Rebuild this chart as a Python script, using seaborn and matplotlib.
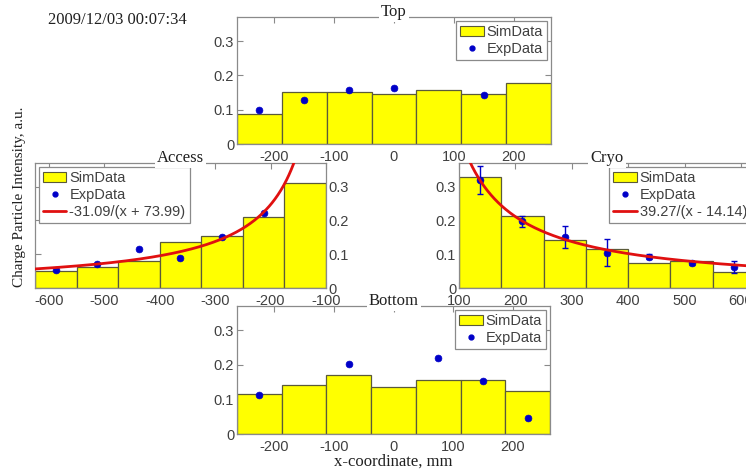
import numpy as np
import matplotlib
matplotlib.use("Agg")
import matplotlib.pyplot as plt
import seaborn as sns
from matplotlib.patches import Patch
from matplotlib.lines import Line2D

sns.set_style("white")
plt.rcParams['font.family'] = ['Liberation Sans', 'DejaVu Sans']

# ---------------- data ----------------
timestamp = "2009/12/03 00:07:34"
ylabel_text = "Charge Particle Intensity, a.u."
xlabel_text = "x-coordinate, mm"

# Top
top_centers = [-225, -150, -75, 0, 75, 150, 225]
top_sim = [0.087, 0.151, 0.151, 0.146, 0.156, 0.146, 0.178]
top_exp_x = [-225, -150, -75, 0, 150]
top_exp_y = [0.099, 0.127, 0.156, 0.162, 0.142]

# Bottom
bot_centers = [-225, -150, -75, 0, 75, 150, 225]
bot_sim = [0.116, 0.143, 0.170, 0.137, 0.157, 0.157, 0.125]
bot_exp_x = [-225, -75, 75, 150, 225]
bot_exp_y = [0.112, 0.201, 0.219, 0.152, 0.047]

# Access
acc_centers = [-587.5, -512.5, -437.5, -362.5, -287.5, -212.5, -137.5]
acc_sim = [0.050, 0.063, 0.081, 0.137, 0.155, 0.211, 0.312]
acc_exp_x = [-587.5, -512.5, -437.5, -362.5, -287.5, -212.5]
acc_exp_y = [0.053, 0.072, 0.115, 0.088, 0.150, 0.223]
acc_fit_a, acc_fit_b = -31.09, 73.99
acc_fit_label = "-31.09/(x + 73.99)"

# Cryo
cry_centers = [137.5, 212.5, 287.5, 362.5, 437.5, 512.5, 587.5]
cry_sim = [0.330, 0.213, 0.142, 0.115, 0.075, 0.079, 0.046]
cry_exp_x = [137.5, 212.5, 287.5, 362.5, 437.5, 512.5, 587.5]
cry_exp_y = [0.320, 0.198, 0.151, 0.105, 0.093, 0.073, 0.062]
cry_exp_err = [0.042, 0.016, 0.033, 0.040, 0.008, 0.005, 0.018]
cry_fit_a, cry_fit_b = 39.27, -14.14
cry_fit_label = "39.27/(x - 14.14)"

# ---------------- style ----------------
YELLOW = "#ffff00"
BAR_EDGE = "#5a5a3a"
BLUE = "#0000c8"
RED = "#e01010"
SPINE = "#8a8a8a"
TICKC = "#404040"
SERIF = ['Liberation Serif', 'DejaVu Serif']
SANS = ['Liberation Sans', 'DejaVu Sans']
BIN_W = 75

W, H = 746, 474
fig = plt.figure(figsize=(W / 100, H / 100), dpi=100)
fig.patch.set_facecolor("white")


def px_axes(l, t, r, b):
    return fig.add_axes([l / W, 1 - b / H, (r - l) / W, (b - t) / H])


def style_axes(ax, xlim, xticks, ylabels_right=False):
    ax.set_xlim(*xlim)
    ax.set_ylim(0, 0.37)
    ax.set_xticks(xticks)
    ax.set_xticklabels([str(t) for t in xticks])
    ax.set_yticks([0, 0.1, 0.2, 0.3])
    ax.set_yticklabels(["0", "0.1", "0.2", "0.3"])
    for s in ax.spines.values():
        s.set_visible(True)
        s.set_color(SPINE)
        s.set_linewidth(0.9)
    ax.tick_params(direction='in', length=4, width=0.8, color=SPINE,
                   top=True, right=True, bottom=True, left=True,
                   labelsize=10.5, labelcolor=TICKC)
    ax.tick_params(axis='y', pad=2)
    ax.tick_params(axis='x', pad=4)
    if ylabels_right:
        ax.tick_params(axis='y', labelleft=False, labelright=True)
    ax.set_xlabel("")
    ax.set_ylabel("")
    ax.grid(False)
    ax.set_facecolor("white")


def draw_panel(ax, centers, sim, exp_x, exp_y, title, exp_err=None,
               fit=None, fit_label=None, legend_loc='upper right'):
    lo = centers[0] - BIN_W / 2
    hi = centers[-1] + BIN_W / 2
    sns.histplot(x=centers, weights=sim, bins=len(centers), binrange=(lo, hi),
                 color=YELLOW, edgecolor=BAR_EDGE, linewidth=0.9, alpha=1,
                 ax=ax, zorder=1)
    if exp_err is not None:
        ax.errorbar(exp_x, exp_y, yerr=exp_err, fmt='none', ecolor=BLUE,
                    elinewidth=1.0, capsize=2.5, capthick=1.0, zorder=3)
    sns.scatterplot(x=exp_x, y=exp_y, color=BLUE, marker='o', s=24,
                    edgecolor=BLUE, linewidth=0.5, ax=ax, zorder=4)
    handles = [Patch(facecolor=YELLOW, edgecolor=BAR_EDGE, linewidth=0.8),
               Line2D([], [], color=BLUE, marker='o', markersize=3.5,
                      linestyle='none')]
    labels = ["SimData", "ExpData"]
    if fit is not None:
        a, b = fit
        xs = np.linspace(lo, hi, 400)
        ys = a / (xs + b)
        sns.lineplot(x=xs, y=ys, color=RED, linewidth=2.0, ax=ax, zorder=5)
        handles.append(Line2D([], [], color=RED, linewidth=2.0))
        labels.append(fit_label)
    leg = ax.legend(handles, labels, loc=legend_loc, frameon=True, fancybox=False,
                    framealpha=1, edgecolor=SPINE,
                    borderaxespad=0.25, handlelength=1.6, handletextpad=0.2,
                    labelspacing=0.2, borderpad=0.3, prop={'family': SANS, 'size': 10.5})
    leg.get_frame().set_linewidth(0.9)
    for t in leg.get_texts():
        t.set_color(TICKC)
    ax.annotate(title, xy=(0.5, 1.0), xycoords='axes fraction',
                xytext=(0, 1), textcoords='offset points',
                ha='center', va='baseline', fontsize=12, family=SERIF,
                color='#202020', annotation_clip=False, zorder=10,
                bbox=dict(facecolor='white', edgecolor='none', pad=1.5))


# Top
ax_top = px_axes(237, 17, 551, 144)
draw_panel(ax_top, top_centers, top_sim, top_exp_x, top_exp_y, "Top")
style_axes(ax_top, (-262.5, 262.5), [-200, -100, 0, 100, 200])

# Access
ax_acc = px_axes(35, 163, 326, 288)
draw_panel(ax_acc, acc_centers, acc_sim, acc_exp_x, acc_exp_y, "Access",
           fit=(acc_fit_a, acc_fit_b), fit_label=acc_fit_label, legend_loc='upper left')
style_axes(ax_acc, (-625, -100), [-600, -500, -400, -300, -200, -100], ylabels_right=True)

# Cryo
ax_cry = px_axes(459, 163, 755, 288)
draw_panel(ax_cry, cry_centers, cry_sim, cry_exp_x, cry_exp_y, "Cryo",
           exp_err=cry_exp_err, fit=(cry_fit_a, cry_fit_b), fit_label=cry_fit_label,
           legend_loc='upper right')
style_axes(ax_cry, (100, 625), [100, 200, 300, 400, 500, 600])

# Bottom
ax_bot = px_axes(237, 306, 550, 434)
draw_panel(ax_bot, bot_centers, bot_sim, bot_exp_x, bot_exp_y, "Bottom")
style_axes(ax_bot, (-262.5, 262.5), [-200, -100, 0, 100, 200])

fig.text(48 / W, 1 - 20 / H, timestamp, ha='left', va='center', fontsize=12,
         family=SERIF, color='#202020')
fig.text(20 / W, 1 - 197 / H, ylabel_text, rotation=90, ha='center', va='center',
         fontsize=11, family=SERIF, color='#202020')
fig.text(393 / W, 1 - 462 / H, xlabel_text, ha='center', va='center',
         fontsize=12, family=SERIF, color='#202020')

fig.savefig("out.png", dpi=100, facecolor="white")
